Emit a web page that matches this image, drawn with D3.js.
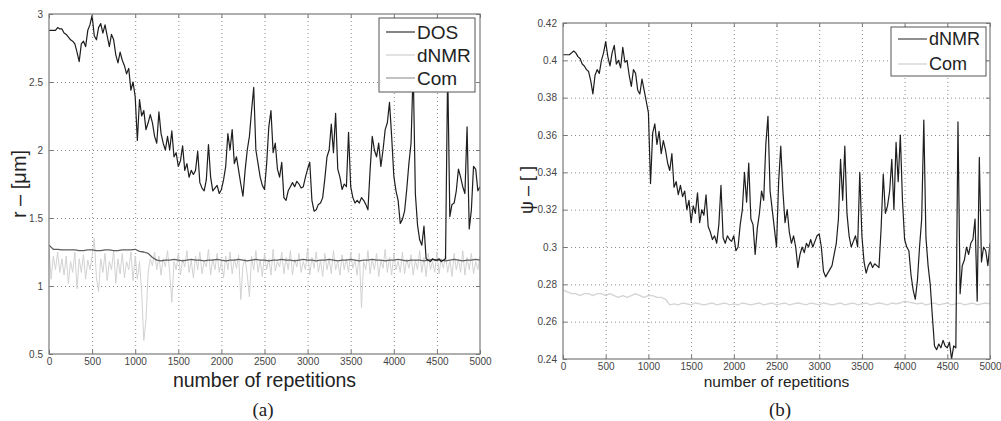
<!DOCTYPE html>
<html lang="en">
<head>
<meta charset="utf-8">
<title>r and psi vs number of repetitions</title>
<script src="https://d3js.org/d3.v7.min.js"></script>
<style type="text/css">
  body { margin: 0; background: #fff; }
  svg { display: block; }
  .tick text { font-family: Arial, "Liberation Sans", sans-serif; fill: #444; }
</style>
</head>
<body>
<script type="text/javascript">

// ---- data ----
var xTicks = [0, 500, 1000, 1500, 2000, 2500, 3000, 3500, 4000, 4500, 5000];
var leftYTicks = [0.5, 1, 1.5, 2, 2.5, 3];
var rightYTicks = [0.24, 0.26, 0.28, 0.3, 0.32, 0.34, 0.36, 0.38, 0.4, 0.42];

// repetitions sampled every 25 (fine series) and every 50 (smooth series)
var reps25 = d3.range(0, 5001, 25);
var reps50 = d3.range(0, 5001, 50);

// (a) DOS, every 25 repetitions
var dosA = [
  2.88, 2.88, 2.88, 2.88, 2.90, 2.89, 2.89, 2.86, 2.85, 2.83,
  2.81, 2.80, 2.78, 2.72, 2.65, 2.78, 2.80, 2.76, 2.88, 2.92,
  2.99, 2.84, 2.81, 2.90, 2.93, 2.86, 2.92, 2.84, 2.76, 2.85,
  2.81, 2.70, 2.64, 2.72, 2.66, 2.62, 2.56, 2.60, 2.44, 2.50,
  2.39, 2.07, 2.37, 2.25, 2.29, 2.15, 2.20, 2.26, 2.20, 2.10,
  2.05, 2.28, 2.12, 2.05, 2.00, 2.10, 2.00, 2.14, 1.95, 1.98,
  1.88, 1.92, 2.03, 1.85, 1.90, 1.80, 1.85, 1.82, 1.85, 1.99,
  1.76, 1.72, 1.70, 1.78, 2.04, 1.80, 1.70, 1.72, 1.74, 1.68,
  1.71, 1.78, 1.88, 2.12, 2.00, 2.15, 1.90, 1.95, 1.85, 1.75,
  1.66, 1.85, 2.00, 2.10, 2.29, 2.46, 2.00, 1.90, 1.80, 1.74,
  1.71, 1.90, 2.17, 2.29, 1.98, 2.05, 1.86, 1.80, 1.91, 1.65,
  1.63, 1.70, 1.73, 1.76, 1.73, 1.77, 1.75, 1.72, 1.73, 1.80,
  1.86, 1.91, 1.63, 1.55, 1.56, 1.60, 1.61, 1.65, 1.79, 1.95,
  2.00, 2.19, 1.98, 2.27, 1.86, 1.80, 1.71, 1.75, 1.73, 2.13,
  1.73, 1.65, 1.61, 1.63, 1.61, 1.65, 1.63, 1.60, 1.56, 1.85,
  2.10, 2.00, 1.95, 2.05, 1.88, 2.00, 2.15, 2.20, 2.35, 2.10,
  1.81, 1.70, 1.63, 1.46, 1.49, 1.55, 1.71, 1.90, 2.05, 2.60,
  1.68, 1.45, 1.34, 1.30, 1.44, 1.20, 1.19, 1.18, 1.20, 1.19,
  1.19, 1.20, 1.18, 1.19, 1.20, 2.60, 1.51, 1.60, 1.61, 1.70,
  1.86, 1.80, 1.73, 1.68, 2.17, 1.42, 1.56, 1.88, 1.86, 1.70,
  1.73
];

// (a) dNMR, every 25 repetitions
var dnmrA = [
  1.28, 1.05, 1.22, 1.12, 1.25, 1.10, 1.20, 1.08, 1.22, 1.02,
  1.18, 1.10, 1.25, 0.98, 1.20, 1.10, 1.23, 1.05, 1.19, 1.12,
  1.22, 1.35, 1.06, 0.96, 1.20, 1.10, 1.24, 1.04, 1.18, 1.12,
  1.26, 1.02, 1.20, 1.09, 1.24, 1.06, 1.18, 1.12, 1.25, 1.04,
  1.22, 1.05, 1.18, 0.95, 0.60, 0.75, 1.10, 1.20, 1.15, 1.25,
  1.12, 1.22, 1.08, 1.20, 1.14, 1.26, 1.10, 0.88, 1.18, 1.12,
  1.24, 1.08, 1.20, 1.14, 1.26, 1.10, 1.19, 1.06, 1.22, 1.12,
  1.25, 1.09, 1.18, 1.14, 1.27, 1.08, 1.20, 1.12, 1.24, 1.10,
  1.18, 1.06, 1.22, 1.12, 1.25, 1.09, 1.20, 1.13, 1.23, 0.90,
  1.15, 1.20, 1.08, 0.92, 1.22, 1.12, 1.26, 1.10, 1.19, 1.07,
  1.24, 1.12, 1.20, 1.08, 1.27, 1.11, 1.18, 1.14, 1.25, 1.09,
  1.21, 1.12, 1.26, 1.08, 1.20, 1.14, 1.24, 1.10, 1.18, 1.12,
  1.28, 1.08, 1.21, 1.13, 1.25, 1.10, 1.19, 1.07, 1.24, 1.12,
  1.20, 1.09, 1.26, 1.12, 1.18, 1.08, 1.23, 1.12, 1.20, 1.10,
  1.25, 1.13, 1.19, 1.08, 1.24, 0.84, 1.18, 1.12, 1.26, 1.09,
  1.20, 1.12, 1.24, 1.07, 1.19, 1.13, 1.27, 1.10, 1.21, 1.08,
  1.24, 1.12, 1.18, 1.10, 1.25, 1.09, 1.20, 1.13, 1.23, 1.08,
  1.19, 1.12, 1.26, 1.10, 1.21, 1.07, 1.24, 1.12, 1.18, 1.10,
  1.25, 1.09, 1.20, 1.13, 1.23, 1.10, 1.19, 1.07, 1.24, 1.12,
  1.20, 1.10, 1.26, 1.08, 1.21, 1.12, 1.24, 1.09, 1.18, 1.12,
  1.22
];

// (a) Com, every 50 repetitions
var comA = [
  1.30, 1.27, 1.27, 1.265, 1.265, 1.265, 1.265, 1.26, 1.26, 1.265,
  1.265, 1.26, 1.26, 1.265, 1.265, 1.26, 1.26, 1.265, 1.265, 1.265,
  1.27, 1.255, 1.25, 1.24, 1.21, 1.19, 1.185, 1.19, 1.19, 1.195,
  1.19, 1.185, 1.19, 1.195, 1.19, 1.19, 1.185, 1.19, 1.19, 1.195,
  1.19, 1.185, 1.19, 1.19, 1.195, 1.19, 1.185, 1.19, 1.195, 1.19,
  1.19, 1.185, 1.19, 1.19, 1.195, 1.19, 1.19, 1.185, 1.19, 1.195,
  1.19, 1.19, 1.185, 1.19, 1.19, 1.195, 1.19, 1.185, 1.19, 1.19,
  1.195, 1.19, 1.185, 1.19, 1.19, 1.195, 1.19, 1.19, 1.185, 1.19,
  1.19, 1.195, 1.19, 1.185, 1.19, 1.19, 1.19, 1.185, 1.19, 1.195,
  1.19, 1.19, 1.185, 1.19, 1.195, 1.19, 1.185, 1.19, 1.19, 1.195,
  1.19
];

// (b) dNMR, every 25 repetitions
var dnmrB = [
  0.403, 0.403, 0.403, 0.403, 0.404, 0.405, 0.404, 0.402, 0.401, 0.398,
  0.397, 0.395, 0.394, 0.389, 0.382, 0.392, 0.395, 0.393, 0.400, 0.404,
  0.410, 0.402, 0.397, 0.404, 0.408, 0.398, 0.400, 0.396, 0.407, 0.399,
  0.400, 0.392, 0.386, 0.395, 0.393, 0.384, 0.382, 0.390, 0.384, 0.378,
  0.372, 0.334, 0.361, 0.366, 0.355, 0.362, 0.350, 0.357, 0.352, 0.345,
  0.341, 0.350, 0.332, 0.335, 0.328, 0.333, 0.327, 0.330, 0.320, 0.325,
  0.313, 0.322, 0.318, 0.329, 0.313, 0.320, 0.317, 0.328, 0.311, 0.308,
  0.304, 0.306, 0.302, 0.312, 0.333, 0.305, 0.302, 0.306, 0.304, 0.303,
  0.306, 0.298, 0.300, 0.312, 0.320, 0.340, 0.324, 0.345, 0.315, 0.312,
  0.296, 0.310, 0.318, 0.330, 0.325, 0.355, 0.370, 0.330, 0.320, 0.310,
  0.300, 0.335, 0.354, 0.330, 0.313, 0.320, 0.308, 0.302, 0.306, 0.300,
  0.289, 0.296, 0.300, 0.297, 0.302, 0.300, 0.304, 0.300, 0.303, 0.306,
  0.307, 0.300, 0.287, 0.284, 0.286, 0.288, 0.290, 0.296, 0.302, 0.315,
  0.347, 0.325, 0.354, 0.318, 0.306, 0.300, 0.303, 0.306, 0.300, 0.340,
  0.306, 0.292, 0.286, 0.290, 0.292, 0.289, 0.291, 0.290, 0.289, 0.310,
  0.339, 0.318, 0.322, 0.330, 0.347, 0.320, 0.356, 0.335, 0.360, 0.325,
  0.304, 0.300, 0.298, 0.285, 0.277, 0.272, 0.282, 0.300, 0.315, 0.368,
  0.305, 0.290, 0.280, 0.263, 0.247, 0.245, 0.248, 0.246, 0.250, 0.247,
  0.246, 0.249, 0.240, 0.247, 0.246, 0.367, 0.275, 0.290, 0.293, 0.300,
  0.296, 0.302, 0.304, 0.315, 0.271, 0.348, 0.292, 0.300, 0.298, 0.290,
  0.302
];

// (b) Com, every 50 repetitions
var comB = [
  0.277, 0.276, 0.275, 0.275, 0.274, 0.275, 0.275, 0.274, 0.275, 0.275,
  0.274, 0.275, 0.274, 0.273, 0.274, 0.273, 0.274, 0.275, 0.274, 0.273,
  0.274, 0.274, 0.273, 0.273, 0.272, 0.269, 0.2695, 0.269, 0.270, 0.2695,
  0.269, 0.270, 0.2695, 0.269, 0.2695, 0.270, 0.269, 0.2695, 0.270, 0.269,
  0.2695, 0.269, 0.270, 0.2695, 0.269, 0.2695, 0.270, 0.269, 0.2695, 0.270,
  0.269, 0.2695, 0.270, 0.269, 0.2695, 0.270, 0.2695, 0.269, 0.270, 0.2695,
  0.269, 0.270, 0.2695, 0.269, 0.2695, 0.270, 0.269, 0.2695, 0.270, 0.269,
  0.2695, 0.270, 0.269, 0.2695, 0.270, 0.2695, 0.269, 0.270, 0.2695, 0.270,
  0.271, 0.2705, 0.270, 0.2695, 0.270, 0.269, 0.2695, 0.270, 0.269, 0.2695,
  0.270, 0.269, 0.2695, 0.270, 0.269, 0.2695, 0.270, 0.269, 0.2695, 0.270,
  0.2695
];

// ---- drawing ----
var svg = d3.select("body").append("svg")
    .attr("width", 1001)
    .attr("height", 421);

function drawPanel(p) {
  var x = d3.scaleLinear().domain([0, 5000]).range([p.left, p.right]);
  var y = d3.scaleLinear().domain(p.yDomain).range([p.bottom, p.top]);
  var w = p.right - p.left, h = p.bottom - p.top;
  var g = svg.append("g");

  // dotted grid
  g.append("g")
    .attr("transform", "translate(0," + p.bottom + ")")
    .call(d3.axisBottom(x).tickValues(xTicks.slice(1, -1)).tickSize(-h).tickFormat(""))
    .call(function(s) { s.select(".domain").remove(); })
    .selectAll("line").attr("stroke", "#8a8a8a").attr("stroke-dasharray", "1,3");
  g.append("g")
    .attr("transform", "translate(" + p.left + ",0)")
    .call(d3.axisLeft(y).tickValues(p.yTicks.slice(1, -1)).tickSize(-w).tickFormat(""))
    .call(function(s) { s.select(".domain").remove(); })
    .selectAll("line").attr("stroke", "#8a8a8a").attr("stroke-dasharray", "1,3");

  // lines
  var clipId = "clip" + p.name;
  svg.append("clipPath").attr("id", clipId)
    .append("rect").attr("x", p.left).attr("y", p.top).attr("width", w).attr("height", h);
  var lines = g.append("g").attr("clip-path", "url(#" + clipId + ")");
  p.series.forEach(function(s) {
    var line = d3.line()
      .x(function(d, i) { return x(s.reps[i]); })
      .y(function(d) { return y(d); });
    lines.append("path")
      .attr("d", line(s.values))
      .attr("fill", "none")
      .attr("stroke", s.color)
      .attr("stroke-width", s.width)
      .attr("stroke-linejoin", "round");
  });

  // axes with inward ticks (MATLAB style)
  var xa = g.append("g").attr("transform", "translate(0," + p.bottom + ")")
    .call(d3.axisBottom(x).tickValues(xTicks).tickSize(-4).tickPadding(4).tickFormat(d3.format("d")));
  xa.select(".domain").remove();
  xa.selectAll("text").attr("font-size", p.tickFont);
  g.append("g").attr("transform", "translate(0," + p.top + ")")
    .call(d3.axisTop(x).tickValues(xTicks).tickSize(-4).tickFormat(""))
    .select(".domain").remove();
  var ya = g.append("g").attr("transform", "translate(" + p.left + ",0)")
    .call(d3.axisLeft(y).tickValues(p.yTicks).tickSize(-4).tickPadding(6)
      .tickFormat(function(d) { return String(+d.toFixed(2)); }));
  ya.select(".domain").remove();
  ya.selectAll("text").attr("font-size", p.tickFont);
  g.append("g").attr("transform", "translate(" + p.right + ",0)")
    .call(d3.axisRight(y).tickValues(p.yTicks).tickSize(-4).tickFormat(""))
    .select(".domain").remove();
  g.selectAll(".tick line").filter(function() { return !this.getAttribute("stroke-dasharray"); })
    .attr("stroke", "#777");
  g.append("rect")
    .attr("x", p.left).attr("y", p.top).attr("width", w).attr("height", h)
    .attr("fill", "none").attr("stroke", "#7a7a7a").attr("stroke-width", 1.2);

  // legend
  var L = p.legend;
  var lg = g.append("g");
  lg.append("rect")
    .attr("x", L.x).attr("y", L.y).attr("width", L.w).attr("height", L.h)
    .attr("fill", "#fff").attr("stroke", "#555").attr("stroke-width", 1);
  L.items.forEach(function(it, i) {
    var cy = L.y + L.first + i * L.step;
    lg.append("line")
      .attr("x1", L.x + 7).attr("x2", L.x + 36).attr("y1", cy).attr("y2", cy)
      .attr("stroke", it.color).attr("stroke-width", 1.2);
    lg.append("text")
      .attr("x", L.x + 38).attr("y", cy).attr("dy", "0.36em")
      .attr("font-family", "Arial, 'Liberation Sans', sans-serif")
      .attr("font-size", L.font).attr("fill", "#222")
      .text(it.label);
  });

  // titles
  g.append("text")
    .attr("x", (p.left + p.right) / 2).attr("y", p.xLabelY)
    .attr("text-anchor", "middle")
    .attr("font-family", "Arial, 'Liberation Sans', sans-serif")
    .attr("font-size", p.xLabelFont).attr("fill", "#222")
    .text("number of repetitions");
  g.append("text")
    .attr("transform", "translate(" + p.yLabelX + "," + p.yLabelY + ") rotate(-90)")
    .attr("text-anchor", "middle")
    .attr("font-family", "Arial, 'Liberation Sans', sans-serif")
    .attr("font-size", p.yLabelFont).attr("fill", "#222")
    .text(p.yLabel);
  g.append("text")
    .attr("x", p.captionX).attr("y", 416)
    .attr("text-anchor", "middle")
    .attr("font-family", "'Liberation Serif', 'DejaVu Serif', serif")
    .attr("font-size", 19).attr("fill", "#222")
    .text(p.caption);
}

drawPanel({
  name: "a", left: 49, right: 480, top: 14, bottom: 354,
  yDomain: [0.5, 3], yTicks: leftYTicks, tickFont: 10,
  series: [
    { reps: reps25, values: dnmrA, color: "#d2d2d2", width: 1 },
    { reps: reps50, values: comA, color: "#5e5e5e", width: 1.3 },
    { reps: reps25, values: dosA, color: "#1e1e1e", width: 1.2 }
  ],
  legend: { x: 379, y: 18, w: 96, h: 74, first: 14, step: 23, font: 19,
    items: [
      { label: "DOS", color: "#333" },
      { label: "dNMR", color: "#cfcfcf" },
      { label: "Com", color: "#999" }
    ] },
  xLabelY: 387, xLabelFont: 19.5,
  yLabel: "r \u2013 [\u03bcm]", yLabelX: 26, yLabelY: 184, yLabelFont: 20,
  caption: "(a)", captionX: 263
});

drawPanel({
  name: "b", left: 563, right: 990, top: 23, bottom: 359,
  yDomain: [0.24, 0.42], yTicks: rightYTicks, tickFont: 10,
  series: [
    { reps: reps50, values: comB, color: "#d4d4d4", width: 1.3 },
    { reps: reps25, values: dnmrB, color: "#1e1e1e", width: 1.2 }
  ],
  legend: { x: 891, y: 27, w: 95, h: 49, first: 12, step: 25, font: 18,
    items: [
      { label: "dNMR", color: "#444" },
      { label: "Com", color: "#cfcfcf" }
    ] },
  xLabelY: 387, xLabelFont: 15.5,
  yLabel: "\u03c8 \u2013 [ ]", yLabelX: 533, yLabelY: 190, yLabelFont: 18,
  caption: "(b)", captionX: 780
});

</script>
</body>
</html>
